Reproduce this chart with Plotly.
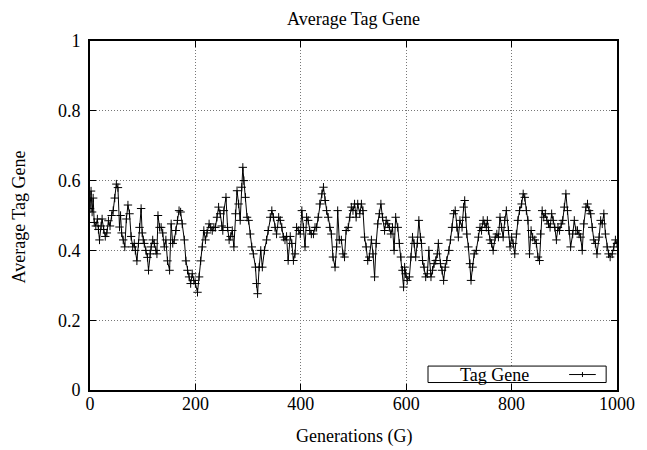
import plotly.graph_objects as go

generations = [0,2,4,6,8,11,14,16,18,21,23,26,29,32,35,38,41,44,47,50,53,56,58,60,63,66,69,72,75,78,81,84,86,89,92,94,97,99,101,103,106,109,111,114,116,119,122,125,127,
    129,132,135,138,141,144,147,151,154,157,160,163,166,169,172,175,179,182,185,188,191,194,197,200,204,207,210,213,216,219,222,226,229,232,235,238,241,244,247,250,252,254,258,261,264,267,270,273,276,279,282,285,288,290,292,295,298,301,304,307,310,314,316,318,321,324,327,331,335,338,342,345,348,351,354,358,361,364,367,370,373,376,380,383,386,389,392,396,399,402,405,408,411,414,417,420,424,427,430,433,436,440,443,446,449,452,455,458,461,465,468,470,473,477,480,483,486,490,493,496,499,502,505,508,512,515,518,521,524,527,530,534,537,540,543,546,549,552,555,559,562,565,568,571,574,577,580,584,587,590,593,595,597,599,602,606,609,612,615,618,621,624,627,629,631,634,637,640,643,647,650,653,656,659,661,665,668,671,674,677,681,684,687,690,693,696,699,702,706,709,711,713,715,718,721,723,726,729,733,737,740,743,746,749,752,754,756,759,762,765,769,772,775,778,781,784,787,790,794,797,800,803,806,809,812,815,819,822,825,828,831,834,837,840,844,847,850,853,855,858,861,864,867,870,873,876,879,882,885,888,891,894,897,900,903,906,909,912,916,919,922,925,928,931,934,937,941,944,947,950,953,956,959,962,966,969,972,975,978,981,984,987,991,994,997,1000]

tag_gene = [0.52,0.57,0.51,0.55,0.48,0.47,0.49,0.46,0.43,0.47,0.49,0.46,0.44,0.45,0.485,0.47,0.5,0.514,0.55,0.59,0.58,0.467,0.5,0.45,0.43,0.41,0.49,0.53,0.505,0.44,0.41,0.42,0.4,0.37,0.42,0.466,0.52,0.45,0.43,0.42,0.4,0.38,0.343,0.39,0.41,0.43,0.42,0.4,0.39,
    0.5,0.466,0.466,0.45,0.41,0.43,0.37,0.343,0.476,0.42,0.43,0.457,0.486,0.514,0.51,0.476,0.43,0.37,0.343,0.324,0.305,0.333,0.314,0.305,0.28,0.324,0.37,0.41,0.457,0.43,0.45,0.476,0.466,0.457,0.466,0.466,0.495,0.524,0.505,0.47,0.457,0.514,0.552,0.466,0.43,0.44,0.457,0.41,0.505,0.571,0.533,0.486,0.581,0.638,0.6,0.552,0.495,0.486,0.447,0.41,0.39,0.352,0.305,0.276,0.352,0.4,0.352,0.4,0.43,0.457,0.495,0.514,0.495,0.466,0.447,0.495,0.486,0.466,0.438,0.43,0.44,0.371,0.44,0.42,0.371,0.39,0.466,0.457,0.447,0.514,0.466,0.41,0.495,0.486,0.457,0.447,0.447,0.466,0.466,0.495,0.533,0.562,0.581,0.543,0.514,0.495,0.466,0.447,0.381,0.352,0.41,0.514,0.43,0.43,0.39,0.381,0.457,0.466,0.495,0.524,0.514,0.533,0.495,0.533,0.505,0.533,0.514,0.438,0.41,0.371,0.381,0.43,0.39,0.324,0.42,0.476,0.505,0.533,0.495,0.457,0.486,0.476,0.466,0.447,0.466,0.4,0.495,0.466,0.42,0.381,0.343,0.295,0.352,0.333,0.314,0.324,0.381,0.438,0.42,0.381,0.42,0.486,0.438,0.42,0.371,0.352,0.324,0.333,0.4,0.324,0.343,0.362,0.371,0.39,0.42,0.362,0.343,0.314,0.352,0.371,0.4,0.43,0.466,0.505,0.514,0.466,0.438,0.486,0.466,0.524,0.543,0.495,0.447,0.41,0.362,0.314,0.352,0.39,0.4,0.438,0.466,0.457,0.486,0.476,0.466,0.486,0.457,0.43,0.42,0.4,0.438,0.447,0.438,0.495,0.466,0.438,0.486,0.514,0.457,0.41,0.438,0.42,0.39,0.447,0.486,0.514,0.533,0.562,0.552,0.514,0.486,0.39,0.457,0.438,0.43,0.42,0.381,0.371,0.447,0.514,0.495,0.505,0.486,0.476,0.466,0.505,0.486,0.466,0.43,0.466,0.457,0.476,0.486,0.524,0.562,0.514,0.457,0.41,0.447,0.486,0.457,0.457,0.447,0.438,0.4,0.476,0.524,0.533,0.514,0.505,0.466,0.43,0.42,0.39,0.438,0.486,0.476,0.505,0.447,0.41,0.39,0.381,0.39,0.41,0.43,0.42]

x_ticks = [0, 200, 400, 600, 800, 1000]
y_ticks = [0, 0.2, 0.4, 0.6, 0.8, 1]
y_tick_labels = ["0", "0.2", "0.4", "0.6", "0.8", "1"]

FONT = "Times New Roman, Liberation Serif, DejaVu Serif, serif"
FS = 18
TXT = dict(family=FONT, size=FS, color="black")

# plot area in page pixels (page body has an 8px offset)
PL, PR, PT, PB = 89.5, 623.5, 40.5, 390.5
PW, PH = PR - PL, PB - PT

def px(x):
    return (x - PL) / PW

def py(y):
    return (PB - y) / PH

fig = go.Figure()
fig.add_trace(go.Scatter(
    x=generations, y=tag_gene, mode="lines+markers", name="Tag Gene",
    line=dict(color="black", width=1),
    marker=dict(symbol="cross-thin", size=6, line=dict(color="black", width=1), color="black"),
    showlegend=False,
))

axis_common = dict(
    showline=True, linecolor="black", linewidth=2, mirror="ticks",
    ticks="inside", ticklen=6, tickcolor="black", tickwidth=1,
    showgrid=True, gridcolor="#777777", griddash="1px,2px", gridwidth=1,
    zeroline=False, tickfont=TXT,
)

fig.update_xaxes(range=[0, 1000], tickvals=x_ticks, ticklabelstandoff=-4, **axis_common)
fig.update_yaxes(range=[0, 1], tickvals=y_ticks, ticktext=y_tick_labels, ticklabelstandoff=4, **axis_common)

# axis titles
fig.add_annotation(xref="paper", yref="paper", x=px(18), y=py(217), text="Average Tag Gene",
                   textangle=-90, showarrow=False, xanchor="center", yanchor="middle", font=TXT)
fig.add_annotation(xref="paper", yref="paper", x=0.5, y=py(437), text="Generations (G)",
                   showarrow=False, xanchor="center", yanchor="middle", font=TXT)
# chart title
fig.add_annotation(xref="paper", yref="paper", x=0.5, y=py(18), text="Average Tag Gene",
                   showarrow=False, xanchor="center", yanchor="middle", font=TXT)

# gnuplot-style key: text on the left, sample on the right
fig.add_shape(type="rect", xref="paper", yref="paper",
              x0=px(432), x1=px(612.5), y0=py(383), y1=py(366.5),
              line=dict(color="black", width=1), fillcolor="white")
fig.add_annotation(xref="paper", yref="paper", x=px(499), y=py(375), text="Tag Gene",
                   showarrow=False, xanchor="center", yanchor="middle", font=TXT)
fig.add_shape(type="line", xref="paper", yref="paper",
              x0=px(575), x1=px(602), y0=py(375), y1=py(375),
              line=dict(color="black", width=1))
fig.add_shape(type="line", xref="paper", yref="paper",
              x0=px(588.5), x1=px(588.5), y0=py(372.5), y1=py(377.5),
              line=dict(color="black", width=1))

fig.update_layout(
    width=639, height=442,
    margin=dict(l=PL - 8, r=647 - PR, t=PT - 8, b=450 - PB),
    paper_bgcolor="white", plot_bgcolor="white",
    font=TXT,
)

fig.write_html("out.html")
